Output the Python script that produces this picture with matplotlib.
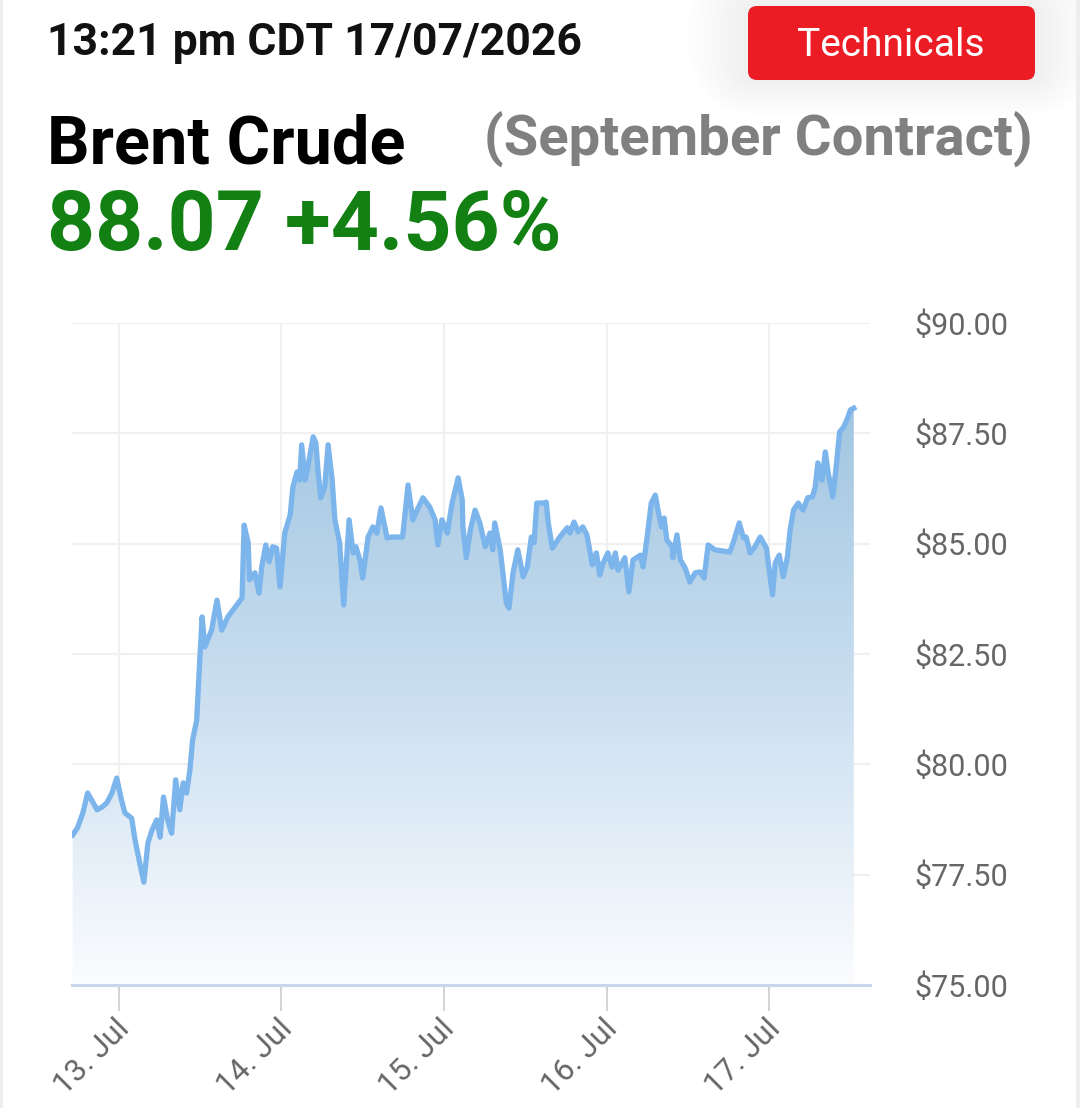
import numpy as np
import matplotlib
matplotlib.use("Agg")
import matplotlib.pyplot as plt
import matplotlib.transforms as mtransforms
from matplotlib.colors import LinearSegmentedColormap
from matplotlib.patches import FancyBboxPatch, Rectangle

plt.rcParams['font.family'] = ['Roboto', 'DejaVu Sans']

# hours since 13 Jul 00:00, price in USD
hours = [-6.8, -6.1, -5.3, -4.6, -4.0, -3.2, -2.5, -1.8, -1.0, -0.3, 0.4, 0.9, 1.9, 2.4, 3.1, 3.7,
         4.3, 4.9, 5.6, 6.1, 6.6, 7.2, 7.8, 8.4, 9.0, 9.5, 10.0, 10.5, 10.9, 11.5, 11.8, 12.3, 12.7,
         13.7, 14.5, 15.2, 16.1, 18.2, 18.5, 19.1, 19.3, 20.1, 20.7, 21.1, 21.7, 22.2, 22.7, 23.3,
         23.8, 24.5, 25.3, 25.7, 26.3, 26.7, 27.0, 27.5, 27.9, 28.7, 29.1, 29.4, 29.8, 30.4, 30.9,
         31.5, 31.9, 32.6, 33.2, 34.0, 34.6, 35.0, 35.6, 36.0, 36.3, 36.8, 37.5, 38.1, 38.7, 39.6,
         40.3, 41.9, 42.7, 43.4, 44.2, 44.9, 45.9, 46.7, 47.1, 47.7, 48.5, 49.2, 50.1, 50.7, 50.8,
         51.3, 51.9, 52.6, 53.3, 54.1, 54.8, 55.2, 55.5, 56.3, 56.7, 57.2, 57.6, 58.2, 58.9, 59.7,
         60.3, 60.9, 61.3, 61.7, 62.6, 63.1, 63.4, 64.0, 65.1, 66.2, 66.6, 67.2, 67.8, 68.5, 69.1,
         69.6, 69.9, 70.5, 71.0, 71.5, 72.2, 72.8, 73.3, 73.7, 74.3, 74.7, 75.3, 75.9, 77.0, 77.4,
         78.0, 78.6, 79.2, 79.6, 80.1, 80.5, 80.9, 81.7, 81.8, 82.4, 82.9, 83.6, 84.3, 85.1, 85.8,
         86.4, 87.0, 88.0, 90.2, 90.7, 91.6, 92.2, 92.6, 93.2, 93.9, 94.7, 95.6, 96.2, 96.5, 96.9,
         97.5, 98.1, 98.7, 99.1, 99.6, 100.3, 101.0, 101.7, 102.4, 102.8, 103.2, 103.8, 104.3,
         104.7, 105.4, 105.9, 106.4, 107.0, 107.6, 108.0, 108.5]
prices = [78.40, 78.56, 78.90, 79.35, 79.19, 78.97, 79.03, 79.12, 79.35, 79.69, 79.19, 78.90, 78.78,
          78.29, 77.76, 77.33, 78.22, 78.51, 78.74, 78.35, 79.26, 78.74, 78.44, 79.65, 78.97, 79.58,
          79.35, 79.87, 80.55, 81.00, 81.91, 83.34, 82.66, 83.04, 83.72, 83.04, 83.34, 83.77, 85.42,
          85.02, 84.18, 84.34, 83.88, 84.47, 84.97, 84.59, 84.93, 84.90, 84.02, 85.24, 85.65, 86.28,
          86.62, 86.44, 87.24, 86.44, 86.74, 87.42, 87.28, 86.67, 86.04, 86.28, 87.24, 86.44, 85.54,
          85.02, 83.61, 85.54, 84.79, 84.93, 84.63, 84.22, 84.56, 85.15, 85.38, 85.24, 85.81, 85.13,
          85.15, 85.15, 86.33, 85.54, 85.81, 86.04, 85.83, 85.54, 84.97, 85.54, 85.24, 85.92, 86.49,
          85.99, 85.38, 84.68, 85.31, 85.76, 85.47, 84.93, 85.24, 84.86, 85.47, 84.86, 84.34, 83.66,
          83.54, 84.34, 84.86, 84.25, 84.47, 85.15, 85.02, 85.92, 85.92, 85.94, 85.47, 84.90, 85.15,
          85.36, 85.24, 85.49, 85.27, 85.38, 85.20, 84.79, 84.52, 84.79, 84.29, 84.56, 84.79, 84.47,
          84.79, 84.40, 84.56, 84.68, 83.91, 84.63, 84.74, 84.47, 85.15, 85.92, 86.10, 85.76, 85.38,
          85.58, 85.08, 84.93, 84.68, 85.20, 84.63, 84.45, 84.13, 84.34, 84.36, 84.22, 84.97, 84.86,
          84.81, 85.02, 85.47, 85.13, 85.15, 84.79, 84.93, 85.15, 84.90, 84.18, 83.84, 84.56, 84.74,
          84.25, 84.70, 85.31, 85.76, 85.92, 85.76, 86.04, 86.06, 86.28, 86.83, 86.44, 87.08, 86.62,
          86.06, 86.74, 87.53, 87.64, 87.85, 88.03, 88.07]

tick_hours = [0, 24, 48, 72, 96]
tick_labels = ['13. Jul', '14. Jul', '15. Jul', '16. Jul', '17. Jul']
y_ticks = [75, 77.5, 80, 82.5, 85, 87.5, 90]

x = np.array(hours)
y = np.array(prices)

W, H = 1080, 1108
fig = plt.figure(figsize=(W / 100, H / 100), dpi=100)
fig.patch.set_facecolor('white')
ax = fig.add_axes([0.0667, 0.111, 0.7389, 0.5975])

xmin, xmax = -6.9, 110.9
ax.set_xlim(xmin, xmax)
ax.set_ylim(75, 90)

# gradient fill under the line
cmap = LinearSegmentedColormap.from_list('fill', ['#fbfcfe', '#c9def0', '#9fc5e0'])
grad = np.linspace(0, 1, 256).reshape(-1, 1)
im = ax.imshow(grad, extent=[xmin, xmax, 75, 88.5], origin='lower', aspect='auto',
               cmap=cmap, zorder=1)
poly = ax.fill_between(x, y, 75, color='none', lw=0)
clip = poly.get_paths()[0]
im.set_clip_path(clip, transform=ax.transData)

ax.plot(x, y, color='#7cb5ec', lw=3.8, solid_joinstyle='round', zorder=3)

# x ticks: marks from the axis, labels drawn by hand so they sit like the original
ax.set_xticks(tick_hours)
ax.set_xticklabels([''] * len(tick_hours))
label_tr = ax.get_xaxis_transform() + mtransforms.ScaledTranslation(-4 / 100, -29 / 100,
                                                                       fig.dpi_scale_trans)
for th, lab in zip(tick_hours, tick_labels):
    ax.text(th, 0, lab, transform=label_tr, rotation=45, ha='right', va='top',
            rotation_mode='anchor', fontsize=22.5, color='#666666', clip_on=False)

ax.set_yticks(y_ticks)
ax.set_yticklabels([f'${v:.2f}' for v in y_ticks], fontsize=22, color='#666666')
ax.yaxis.tick_right()
ax.tick_params(axis='y', length=0, pad=32)
ax.tick_params(axis='x', length=19, width=1.2, color='#cccccc')

ax.grid(True, color='#f0f0f0', lw=1.6, zorder=0)
ax.set_axisbelow(True)
for side in ['top', 'left', 'right']:
    ax.spines[side].set_visible(False)
ax.spines['bottom'].set_color('#ccd6eb')
ax.spines['bottom'].set_linewidth(2.2)
ax.spines['bottom'].set_zorder(4)

# thin page edges
fig.patches.append(Rectangle((0, 0), 3, H, transform=None, facecolor='#eeeeee', edgecolor='none'))
fig.patches.append(Rectangle((W - 4, 0), 4, H, transform=None, facecolor='#eeeeee', edgecolor='none'))

# header texts
fig.text(47 / W, 1 - 55 / H, '13:21 pm CDT 17/07/2026', fontsize=32, fontweight='bold',
         color='#111111', ha='left', va='baseline')
fig.text(47 / W, 1 - 163 / H, 'Brent Crude', fontsize=48, fontweight='bold',
         color='#000000', ha='left', va='baseline')
fig.text(1033 / W, 1 - 155 / H, '(September Contract)', fontsize=40.5, fontweight='bold',
         color='#808080', ha='right', va='baseline')
fig.text(47 / W, 1 - 250 / H, '88.07 +4.56%', fontsize=60.5, fontweight='bold',
         color='#138013', ha='left', va='baseline')

# Technicals button with soft shadow
for grow in range(4, 64, 4):
    sh = FancyBboxPatch((748 - grow, H - 80 - grow * 0.6), 287 + 2 * grow, 74 + 1.4 * grow,
                        boxstyle=f'round,pad=0,rounding_size={10 + grow}', transform=None,
                        facecolor='#000000', edgecolor='none', alpha=0.0045)
    fig.patches.insert(0, sh)
btn = FancyBboxPatch((748, H - 80), 287, 74, boxstyle='round,pad=0,rounding_size=9',
                     transform=None, facecolor='#ec1c24', edgecolor='none')
fig.patches.append(btn)
fig.text(891 / W, 1 - 45 / H, 'Technicals', fontsize=28, color='white',
         ha='center', va='center')

fig.savefig('out.png', dpi=100, facecolor='white')
